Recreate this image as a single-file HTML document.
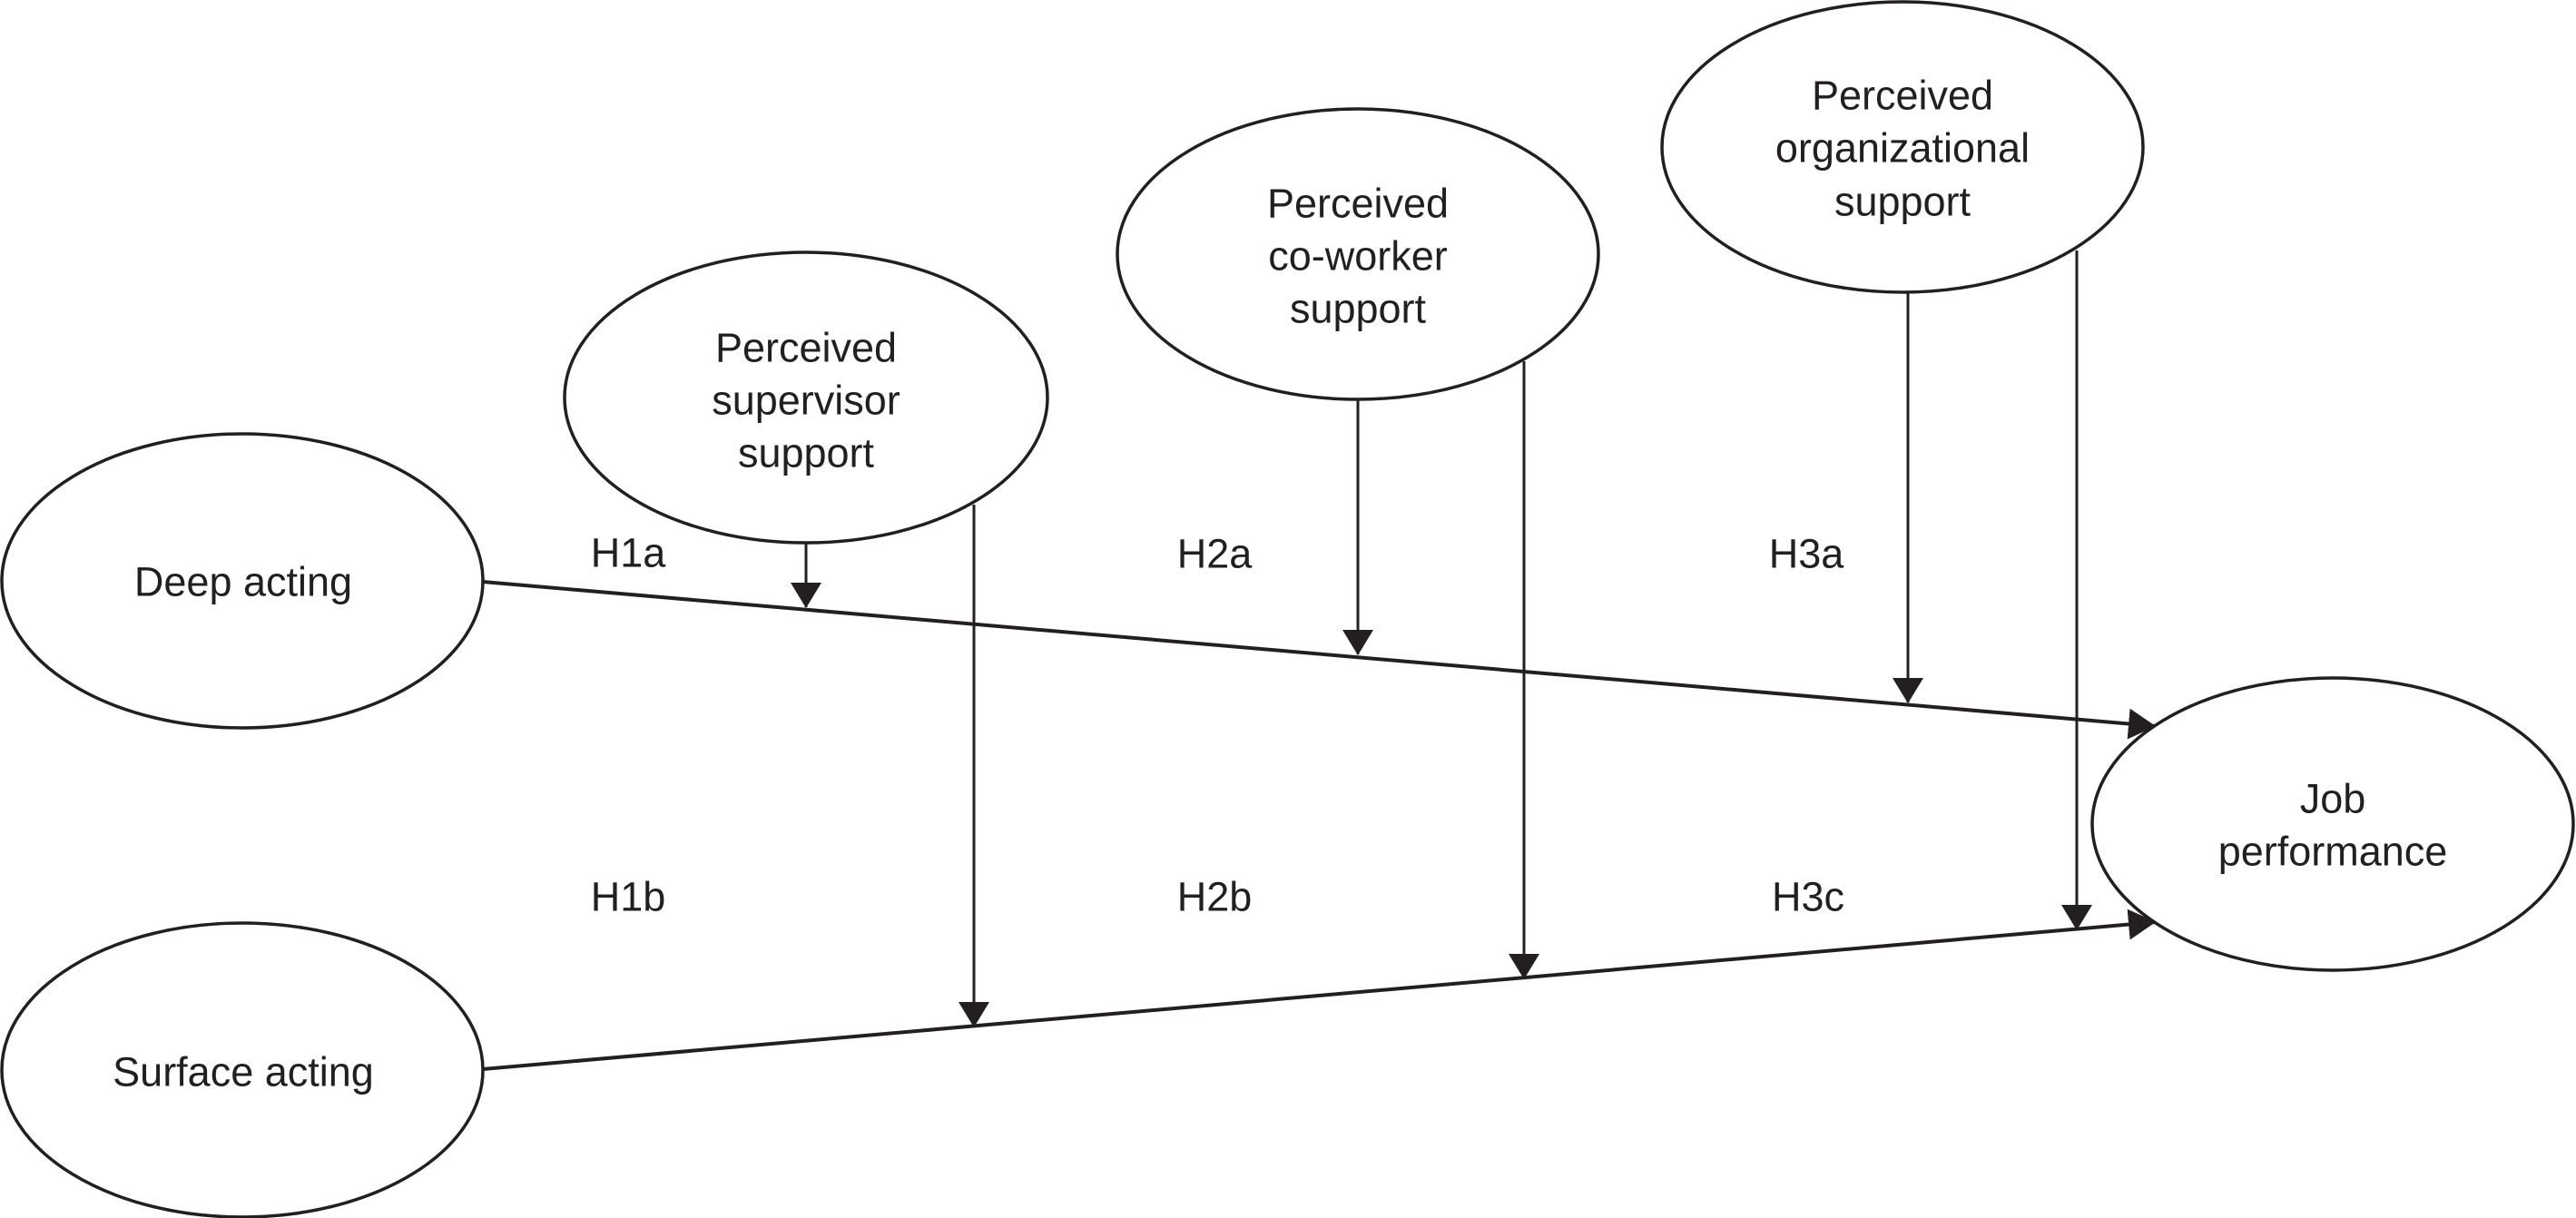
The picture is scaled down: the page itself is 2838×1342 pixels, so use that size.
<!DOCTYPE html>
<html><head><meta charset="utf-8"><style>
html,body{margin:0;padding:0;background:#fff;}
svg{display:block;}
text{font-family:"Liberation Sans",Arial,sans-serif;font-size:45px;fill:#231f20;text-anchor:middle;dominant-baseline:central;}
</style></head><body>
<svg width="2838" height="1342" viewBox="0 0 2838 1342" xmlns="http://www.w3.org/2000/svg">
<defs>
<marker id="a" viewBox="0 0 30 34" refX="29" refY="17" markerWidth="30" markerHeight="34" markerUnits="userSpaceOnUse" orient="auto">
<path d="M0,0 L30,17 L0,34 Z" fill="#231f20"/></marker>
<marker id="v" viewBox="0 0 28 34" refX="27" refY="17" markerWidth="28" markerHeight="34" markerUnits="userSpaceOnUse" orient="auto">
<path d="M0,0 L28,17 L0,34 Z" fill="#231f20"/></marker>
</defs>
<g fill="none" stroke="#231f20" stroke-width="3.5">
<ellipse cx="267" cy="640" rx="265" ry="162"/>
<ellipse cx="267" cy="1179" rx="265" ry="162"/>
<ellipse cx="888" cy="438" rx="266" ry="160"/>
<ellipse cx="1496" cy="280" rx="265" ry="160"/>
<ellipse cx="2096" cy="162" rx="265" ry="160"/>
<ellipse cx="2570" cy="908" rx="265" ry="161"/>
</g>
<g stroke="#231f20" fill="none">
<line x1="532" y1="641" x2="2374" y2="800" stroke-width="4" marker-end="url(#a)"/>
<line x1="532" y1="1178" x2="2374" y2="1016" stroke-width="4" marker-end="url(#a)"/>
<line x1="888" y1="598" x2="888" y2="669" stroke-width="3" marker-end="url(#v)"/>
<line x1="1073" y1="556" x2="1073" y2="1131" stroke-width="3" marker-end="url(#v)"/>
<line x1="1496" y1="440" x2="1496" y2="721" stroke-width="3" marker-end="url(#v)"/>
<line x1="1679" y1="398" x2="1679" y2="1078" stroke-width="3" marker-end="url(#v)"/>
<line x1="2102" y1="322" x2="2102" y2="774" stroke-width="3" marker-end="url(#v)"/>
<line x1="2288" y1="276" x2="2288" y2="1024" stroke-width="3" marker-end="url(#v)"/>
</g>
<text x="268" y="641">Deep acting</text>
<text x="268" y="1181">Surface acting</text>
<text x="888" y="383">Perceived</text>
<text x="888" y="441">supervisor</text>
<text x="888" y="499">support</text>
<text x="1496" y="224">Perceived</text>
<text x="1496" y="282">co-worker</text>
<text x="1496" y="340">support</text>
<text x="2096" y="105">Perceived</text>
<text x="2096" y="163">organizational</text>
<text x="2096" y="222">support</text>
<text x="2570" y="880">Job</text>
<text x="2570" y="938">performance</text>
<text x="692" y="609">H1a</text>
<text x="1338" y="610">H2a</text>
<text x="1990" y="610">H3a</text>
<text x="692" y="988">H1b</text>
<text x="1338" y="988">H2b</text>
<text x="1992" y="988">H3c</text>
</svg>
</body></html>
